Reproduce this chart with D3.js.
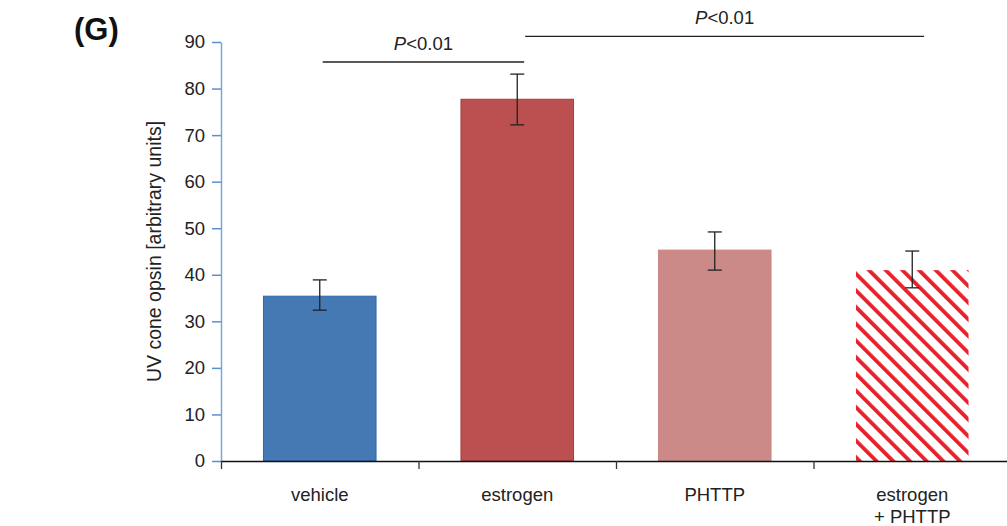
<!DOCTYPE html>
<html>
<head>
<meta charset="utf-8">
<script src="https://cdn.jsdelivr.net/npm/d3@7"></script>
<style>
  body { margin: 0; background: #fff; }
  svg { display: block; font-family: "Liberation Sans", Arial, sans-serif; }
</style>
</head>
<body>
<script>
// data
const categories = ["vehicle", "estrogen", "PHTTP", "estrogen\n+ PHTTP"];
const means = [35.4, 77.7, 45.3, 41.0];
const errLow = [32.4, 72.2, 41.0, 37.2];
const errHigh = [38.9, 83.1, 49.2, 45.1];
const yTicks = [0, 10, 20, 30, 40, 50, 60, 70, 80, 90];
// significance brackets: start / end (in category index units), height, label
const sigFrom = [0.015, 1.04];
const sigTo = [1.035, 3.06];
const sigLevel = [85.7, 91.2];
const sigLabel = ["P<0.01", "P<0.01"];

const W = 1007, H = 526;
const margin = { top: 42, right: -4, bottom: 65, left: 221 };
const width = W - margin.left - margin.right;
const height = H - margin.top - margin.bottom;

const svg = d3.select("body").append("svg")
    .attr("width", W)
    .attr("height", H);

// hatch pattern for the last bar ("\" stripes)
const defs = svg.append("defs");
const pat = defs.append("pattern")
    .attr("id", "hatch")
    .attr("patternUnits", "userSpaceOnUse")
    .attr("width", 11.8)
    .attr("height", 11.8)
    .attr("patternTransform", "rotate(-45)");
pat.append("rect").attr("width", 11.8).attr("height", 11.8).attr("fill", "#fff");
pat.append("rect").attr("x", 0).attr("width", 3.8).attr("height", 11.8).attr("fill", "#e8202a");

const g = svg.append("g")
    .attr("transform", "translate(" + margin.left + "," + margin.top + ")");

var x = d3.scaleBand()
    .domain(d3.range(categories.length))
    .range([0, width])
    .paddingInner(0.43)
    .paddingOuter(0.215);

var y = d3.scaleLinear()
    .domain([0, 90])
    .range([height, 0]);

// category-centre scale, used for the brackets
const xc = d3.scaleLinear()
    .domain([0, 1])
    .range([x(0) + x.bandwidth() / 2, x(1) + x.bandwidth() / 2]);

const fills = ["#4479b4", "#bc5050", "#cb8a88", "url(#hatch)"];
const strokes = ["#2f68aa", "#a43c3c", "#c98584", "none"];

// bars
g.selectAll(".bar")
    .data(means)
    .enter().append("rect")
    .attr("class", "bar")
    .attr("x", (d, i) => x(i))
    .attr("y", d => y(d))
    .attr("width", x.bandwidth())
    .attr("height", d => height - y(d))
    .attr("fill", (d, i) => fills[i])
    .attr("stroke", (d, i) => strokes[i])
    .attr("stroke-width", 1);

// error bars
const cx = i => x(i) + x.bandwidth() / 2;
const eb = g.selectAll(".err").data(means).enter().append("g").attr("class", "err")
    .attr("stroke", "#222").attr("stroke-width", 1.3);
eb.append("line")
    .attr("x1", (d, i) => cx(i)).attr("x2", (d, i) => cx(i))
    .attr("y1", (d, i) => y(errLow[i])).attr("y2", (d, i) => y(errHigh[i]));
eb.append("line")
    .attr("x1", (d, i) => cx(i) - 7).attr("x2", (d, i) => cx(i) + 7)
    .attr("y1", (d, i) => y(errLow[i])).attr("y2", (d, i) => y(errLow[i]));
eb.append("line")
    .attr("x1", (d, i) => cx(i) - 7).attr("x2", (d, i) => cx(i) + 7)
    .attr("y1", (d, i) => y(errHigh[i])).attr("y2", (d, i) => y(errHigh[i]));

// Y axis
const yAxis = g.append("g")
    .call(d3.axisLeft(y).tickValues(yTicks).tickSize(9).tickPadding(7).tickSizeOuter(0));
yAxis.select(".domain").attr("stroke", "#7aa6d8").attr("stroke-width", 1.5);
yAxis.selectAll(".tick line").attr("stroke", "#5b8fcf").attr("stroke-width", 1.5);
yAxis.selectAll(".tick text")
    .attr("fill", "#222")
    .style("font-size", "18.5px")
    .style("font-family", "Liberation Sans, Arial, sans-serif");

// X axis (ticks at band edges)
const xEdge = d3.scaleLinear().domain([0, categories.length]).range([0, x.step() * categories.length]);
const xAxis = g.append("g")
    .attr("transform", "translate(0," + height + ")")
    .call(d3.axisBottom(xEdge).tickValues(d3.range(categories.length + 1)).tickSize(8).tickFormat("").tickSizeOuter(0));
xAxis.select(".domain").attr("stroke", "#111").attr("stroke-width", 1.5);
xAxis.selectAll(".tick line").attr("stroke", "#333").attr("stroke-width", 1.3);

// category labels
const lab = g.selectAll(".xlab").data(categories).enter().append("text")
    .attr("class", "xlab")
    .attr("text-anchor", "middle")
    .attr("fill", "#222")
    .style("font-size", "18.5px");
lab.each(function (d, i) {
    const t = d3.select(this);
    d.split("\n").forEach((s, k) => {
        t.append("tspan")
            .attr("x", cx(i))
            .attr("y", height + 40 + k * 22)
            .text(s);
    });
});

// Y axis label
g.append("text")
    .attr("transform", "rotate(-90)")
    .attr("x", -height / 2)
    .attr("y", -60)
    .attr("text-anchor", "middle")
    .attr("fill", "#222")
    .style("font-size", "19.5px")
    .text("UV cone opsin [arbitrary units]");

// significance lines
const sig = g.selectAll(".sig").data(sigLabel).enter().append("g").attr("class", "sig");
sig.append("line")
    .attr("x1", (d, i) => xc(sigFrom[i])).attr("x2", (d, i) => xc(sigTo[i]))
    .attr("y1", (d, i) => y(sigLevel[i])).attr("y2", (d, i) => y(sigLevel[i]))
    .attr("stroke", "#222").attr("stroke-width", 1.3);
const st = sig.append("text")
    .attr("x", (d, i) => (xc(sigFrom[i]) + xc(sigTo[i])) / 2)
    .attr("y", (d, i) => y(sigLevel[i]) - 12.5)
    .attr("text-anchor", "middle")
    .attr("fill", "#222")
    .style("font-size", "18.5px");
st.append("tspan").style("font-style", "italic").text(d => d.slice(0, 1));
st.append("tspan").text(d => d.slice(1));

// panel letter
svg.append("text")
    .attr("x", 74)
    .attr("y", 40)
    .attr("font-weight", "bold")
    .attr("fill", "#111")
    .style("font-size", "31px")
    .text("(G)");
</script>
</body>
</html>
